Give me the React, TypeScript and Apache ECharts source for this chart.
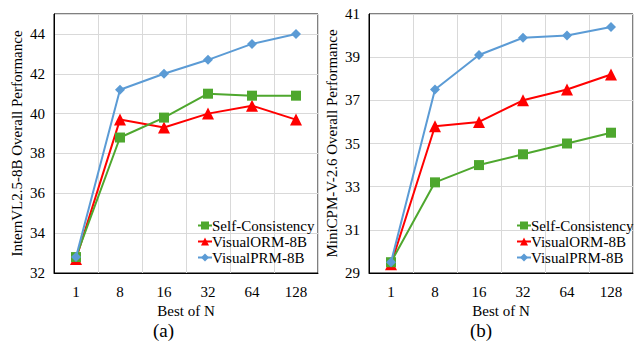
import React, { useEffect, useRef } from "react";
import * as echarts from "echarts";

const categories = ["1", "8", "16", "32", "64", "128"];
const seriesNames = ["Self-Consistency", "VisualORM-8B", "VisualPRM-8B"];

// (a) InternVL2.5-8B
const aSelfConsistency = [32.8, 38.8, 39.8, 41.0, 40.9, 40.9];
const aVisualORM = [32.7, 39.7, 39.3, 40.0, 40.4, 39.7];
const aVisualPRM = [32.8, 41.2, 42.0, 42.7, 43.5, 44.0];

// (b) MiniCPM-V-2.6
const bSelfConsistency = [29.5, 33.2, 34.0, 34.5, 35.0, 35.5];
const bVisualORM = [29.4, 35.8, 36.0, 37.0, 37.5, 38.2];
const bVisualPRM = [29.5, 37.5, 39.1, 39.9, 40.0, 40.4];

const FONT = "'Liberation Serif', 'Times New Roman', serif";
const GREEN = "#4ea72e";
const RED = "#ff0000";
const BLUE = "#5b9bd5";

export default function App() {
  const ref = useRef<HTMLDivElement>(null);
  useEffect(() => {
    if (!ref.current) return;
    const chart = echarts.init(ref.current, null, { renderer: "svg" });
    const styles = [
      { color: GREEN, symbol: "rect", symbolSize: 10 },
      { color: RED, symbol: "triangle", symbolSize: 12 },
      { color: BLUE, symbol: "diamond", symbolSize: 10 },
    ];
    const data = [
      [aSelfConsistency, aVisualORM, aVisualPRM],
      [bSelfConsistency, bVisualORM, bVisualPRM],
    ];
    const series: any[] = [];
    data.forEach((group, gi) => {
      group.forEach((vals, si) => {
        series.push({
          name: seriesNames[si],
          type: "line",
          xAxisIndex: gi,
          yAxisIndex: gi,
          data: vals,
          symbol: styles[si].symbol,
          symbolSize: styles[si].symbolSize,
          showSymbol: true,
          lineStyle: { color: styles[si].color, width: 2 },
          itemStyle: { color: styles[si].color },
          z: 3 + (si === 1 ? 0 : si === 0 ? 1 : 2),
        });
      });
    });
    const xAxisBase = (gi: number) => ({
      type: "category",
      gridIndex: gi,
      data: categories,
      boundaryGap: true,
      axisLine: { show: true, lineStyle: { color: "#000", width: 1 } },
      axisTick: { show: false },
      axisLabel: { color: "#000", fontFamily: FONT, fontSize: 15, margin: 11 },
      splitLine: { show: true, lineStyle: { color: "#d9d9d9", width: 1 } },
      name: "Best of N",
      nameLocation: "middle",
      nameGap: 29,
      nameTextStyle: { color: "#000", fontFamily: FONT, fontSize: 15 },
    });
    const yAxisBase = (gi: number, min: number, max: number, name: string, showMax: boolean) => ({
      type: "value",
      gridIndex: gi,
      min,
      max,
      interval: 2,
      axisLine: { show: true, lineStyle: { color: "#000", width: 1 } },
      axisTick: { show: false },
      axisLabel: { color: "#000", fontFamily: FONT, fontSize: 15, margin: 9, showMaxLabel: showMax },
      splitLine: { show: true, lineStyle: { color: "#d9d9d9", width: 1 } },
      name,
      nameLocation: "middle",
      nameGap: 30,
      nameTextStyle: { color: "#000", fontFamily: FONT, fontSize: 15 },
    });
    const legendBase = (left: number) => ({
      orient: "vertical",
      left,
      top: 218,
      itemWidth: 14,
      itemHeight: 10,
      itemGap: 1,
      padding: 0,
      textStyle: { color: "#000", fontFamily: FONT, fontSize: 15, padding: [0, 0, 0, -5] },
      data: seriesNames,
    });
    chart.setOption({
      animation: false,
      backgroundColor: "#fff",
      grid: [
        { left: 54, top: 14, width: 264, height: 259, show: true, borderColor: "#000", borderWidth: 1, backgroundColor: "transparent" },
        { left: 369, top: 14, width: 264, height: 259, show: true, borderColor: "#000", borderWidth: 1, backgroundColor: "transparent" },
      ],
      xAxis: [xAxisBase(0), xAxisBase(1)],
      yAxis: [
        yAxisBase(0, 32, 45, "InternVL2.5-8B Overall Performance", false),
        yAxisBase(1, 29, 41, "MiniCPM-V-2.6 Overall Performance", true),
      ],
      legend: [legendBase(197), legendBase(516)],
      graphic: [
        { type: "text", left: 153, top: 321, style: { text: "(a)", font: `19px ${FONT}`, fill: "#000" } },
        { type: "text", left: 470, top: 321, style: { text: "(b)", font: `19px ${FONT}`, fill: "#000" } },
      ],
      series,
    });
    return () => chart.dispose();
  }, []);
  return <div ref={ref} style={{ width: 634, height: 344, position: "absolute", left: 0, top: 0 }} />;
}
